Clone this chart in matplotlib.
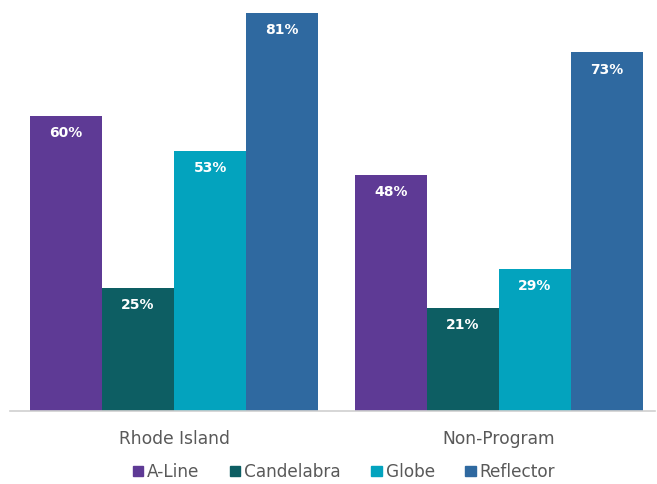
import numpy as np
import matplotlib.pyplot as plt
from matplotlib.patches import Patch

groups = ["Rhode Island", "Non-Program"]
series = ["A-Line", "Candelabra", "Globe", "Reflector"]
values = {
    "A-Line": [60, 48],
    "Candelabra": [25, 21],
    "Globe": [53, 29],
    "Reflector": [81, 73],
}
colors = ["#5e3a95", "#0d5e63", "#03a3be", "#2f69a0"]

W, H = 657, 484
fig = plt.figure(figsize=(W / 100, H / 100), dpi=100)
ax = fig.add_axes([10 / W, (H - 411) / H, 645 / W, 406 / H])

x = np.arange(len(groups))
bw = 72 / 325
for i, (name, c) in enumerate(zip(series, colors)):
    xs = x + (i - 1.5) * bw
    ax.bar(xs, values[name], width=bw, color=c, label=name)
    for xi, v in zip(xs, values[name]):
        ax.text(xi, v - 3.5, f"{v}%", ha="center", va="center",
                color="white", fontsize=10, fontweight="bold")

ax.set_xlim(-0.505, 1.48)
ax.set_ylim(0, 81 * 406 / 398)
ax.set_yticks([])
ax.set_xticks(x)
ax.set_xticklabels(groups, fontsize=12.3, color="#595959")
ax.tick_params(axis="x", length=0, pad=14)
for s in ["top", "right", "left"]:
    ax.spines[s].set_visible(False)
ax.spines["bottom"].set_color("#d0d0d0")
ax.spines["bottom"].set_linewidth(1.2)

handles = [Patch(color=c, label=n) for n, c in zip(series, colors)]
fig.legend(handles=handles, loc="center", bbox_to_anchor=(344 / W, (H - 472) / H),
           ncol=4, frameon=False, fontsize=12.2, handlelength=0.6, handleheight=0.6,
           handletextpad=0.25, columnspacing=1.8, labelcolor="#595959",
           borderpad=0.1)

fig.savefig("out.png", dpi=100)
